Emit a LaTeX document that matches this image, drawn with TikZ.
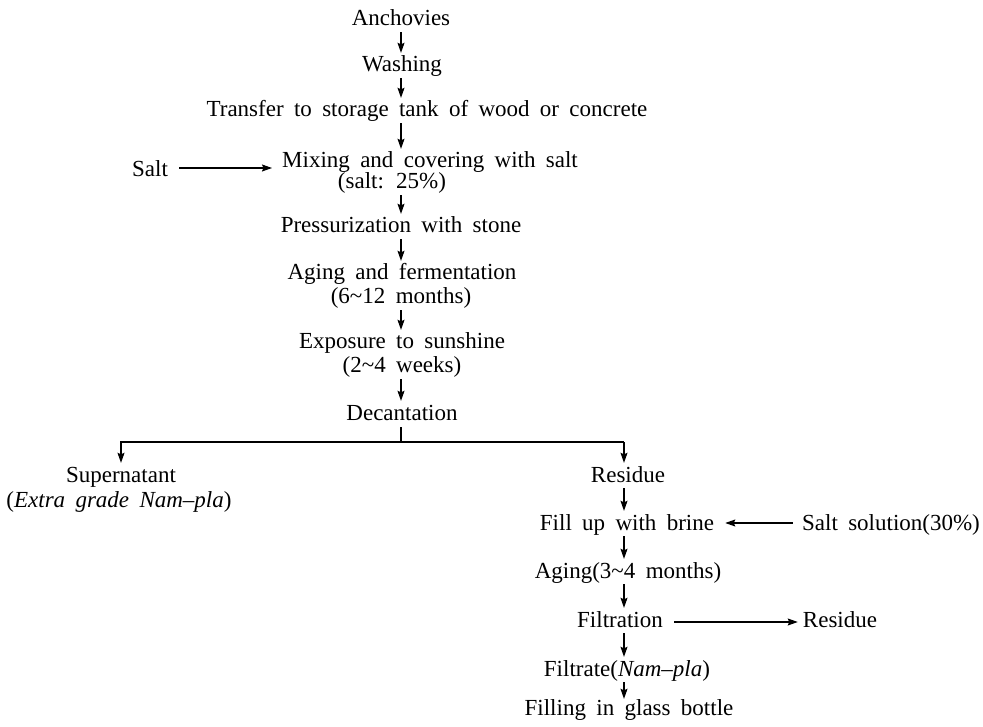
\documentclass[tikz,border=0pt]{standalone}
\usepackage{fontspec}
\setmainfont{Liberation Serif}[WordSpace=1.8]
\usetikzlibrary{arrows.meta}
\begin{document}
\begin{tikzpicture}[x=1pt,y=-1pt,
  lbl/.style={anchor=base,inner sep=0pt,text height=15pt,text depth=5pt,font=\fontsize{23}{25}\selectfont},
  arr/.style={-{Stealth[length=10pt,width=7pt,inset=1.5pt]},line width=1.1pt,shorten >=4pt,shorten <=1pt},
  ln/.style={line width=1.1pt}]
\useasboundingbox (0,0) rectangle (983,727);
\coordinate (c) at (401,0);
\coordinate (rc) at (624,0);
% main column
\node[lbl] (anch) at (401,26) {Anchovies};
\node[lbl] (wash) at (402,72) {Washing};
\node[lbl] (trans) at (427,117) {Transfer to storage tank of wood or concrete};
\node[lbl] (mix) at (430,168) {Mixing and covering with salt};
\node[lbl] (mixb) at (392,189) {(salt: 25\%)};
\node[lbl] (salt) at (150,177) {Salt};
\node[lbl] (press) at (401,233) {Pressurization with stone};
\node[lbl] (age) at (402,280) {Aging and fermentation};
\node[lbl] (ageb) at (401,304) {(6\textasciitilde12 months)};
\node[lbl] (expo) at (402,349) {Exposure to sunshine};
\node[lbl] (expob) at (402,373) {(2\textasciitilde4 weeks)};
\node[lbl] (dec) at (402,420) {Decantation};
% branches
\node[lbl] (sup) at (121,482) {Supernatant};
\node[lbl] (supb) at (119,507) {(\textit{Extra grade Nam–pla})};
\node[lbl] (res) at (628,482) {Residue};
\node[lbl] (fill) at (627,530) {Fill up with brine};
\node[lbl] (sol) at (891,530) {Salt solution(30\%)};
\node[lbl] (aging) at (628,578) {Aging(3\textasciitilde4 months)};
\node[lbl] (filt) at (620,627) {Filtration};
\node[lbl] (res2) at (840,627) {Residue};
\node[lbl] (filtr) at (627,676) {Filtrate(\textit{Nam–pla})};
\node[lbl] (bottle) at (629,715) {Filling in glass bottle};
% vertical arrows, main column
\draw[arr] (anch.south -| c) -- (wash.north -| c);
\draw[arr] (wash.south -| c) -- (trans.north -| c);
\draw[arr] (trans.south -| c) -- (mix.north -| c);
\draw[arr] (mixb.south -| c) -- (press.north -| c);
\draw[arr] (press.south -| c) -- (age.north -| c);
\draw[arr] (ageb.south -| c) -- (expo.north -| c);
\draw[arr] (expob.south -| c) -- (dec.north -| c);
% salt input
\path (salt.east) ++(0,-4) coordinate (s1);
\draw[arr,shorten <=11pt,shorten >=10pt] (s1) -- (s1 -| mix.west);
% branch
\coordinate (bj) at (401,442);
\coordinate (bl) at (121,442);
\coordinate (br) at (624,442);
\draw[ln,shorten <=2pt] (dec.south -| c) -- (bj);
\draw[arr,shorten <=0pt,line join=miter] (br) -- (bl) -- (sup.north -| bl);
\draw[arr,shorten <=0pt] (br) -- (res.north -| br);
% right column
\draw[arr] (res.south -| rc) -- (fill.north -| rc);
\draw[arr] (fill.south -| rc) -- (aging.north -| rc);
\draw[arr] (aging.south -| rc) -- (filt.north -| rc);
\draw[arr] (filt.south -| rc) -- (filtr.north -| rc);
\draw[arr,shorten >=1pt] (filtr.south -| rc) -- (bottle.north -| rc);
% side arrows
\path (fill.east) ++(0,-2) coordinate (f1);
\draw[arr,shorten <=9pt,shorten >=11pt] (f1 -| sol.west) -- (f1);
\draw[arr,shorten <=11pt,shorten >=5pt] (filt.east) -- (filt.east -| res2.west);
\end{tikzpicture}
\end{document}
